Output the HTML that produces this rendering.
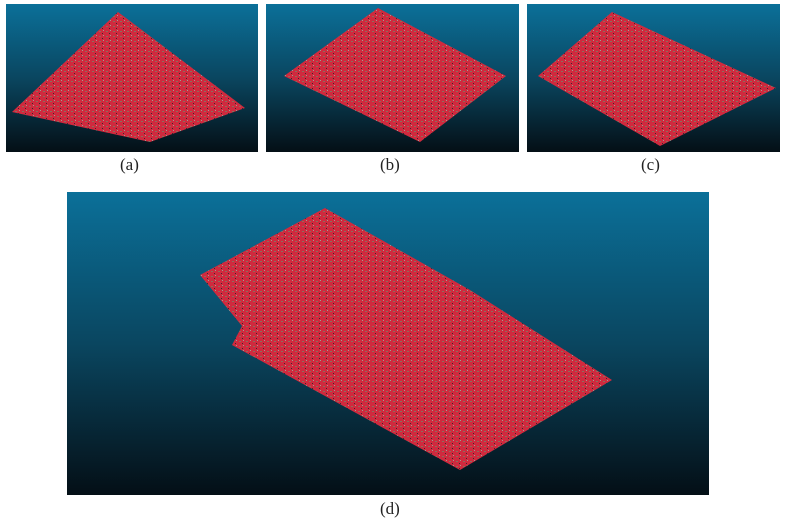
<!DOCTYPE html>
<html><head><meta charset="utf-8"><style>
html,body{margin:0;padding:0;background:#fff;width:789px;height:528px;overflow:hidden;font-family:"Liberation Serif",serif;}
.cap{position:absolute;font-size:17px;color:#222;}
</style></head><body>
<svg width="789" height="528" viewBox="0 0 789 528" style="position:absolute;left:0;top:0">
<defs>
<linearGradient id="bg" x1="0" y1="0" x2="0" y2="1">
<stop offset="0" stop-color="#0b7099"/><stop offset="0.5" stop-color="#0a4660"/><stop offset="1" stop-color="#040f16"/>
</linearGradient>
<pattern id="tex" width="7" height="5" patternUnits="userSpaceOnUse">
<rect width="7" height="5" fill="#cf2a3e"/>
<rect x="1" y="1" width="2" height="1" fill="#8f6c5c"/>
<rect x="4" y="3" width="1" height="1" fill="#3a2a2e"/>
<rect x="5" y="0" width="1" height="1" fill="#a89890"/>
</pattern>
</defs>
<g>
<rect x="6" y="4" width="252" height="148" fill="url(#bg)"/>
<polygon points="12,112 118,12 245,108 150,142" fill="url(#tex)"/>
</g>
<g>
<rect x="266" y="4" width="253" height="148" fill="url(#bg)"/>
<polygon points="284,76 378,8 506,76 420,142" fill="url(#tex)"/>
</g>
<g>
<rect x="527" y="4" width="253" height="148" fill="url(#bg)"/>
<polygon points="538,76 612,12 776,88 660,146" fill="url(#tex)"/>
</g>
<g>
<rect x="67" y="192" width="642" height="303" fill="url(#bg)"/>
<polygon points="325,208 470,290 612,380 460,470 232,345 242,326 200,275" fill="url(#tex)"/>
</g>
</svg>
<div class="cap" style="left:120px;top:155px">(a)</div>
<div class="cap" style="left:380px;top:155px">(b)</div>
<div class="cap" style="left:641px;top:155px">(c)</div>
<div class="cap" style="left:380px;top:499px">(d)</div>
</body></html>
